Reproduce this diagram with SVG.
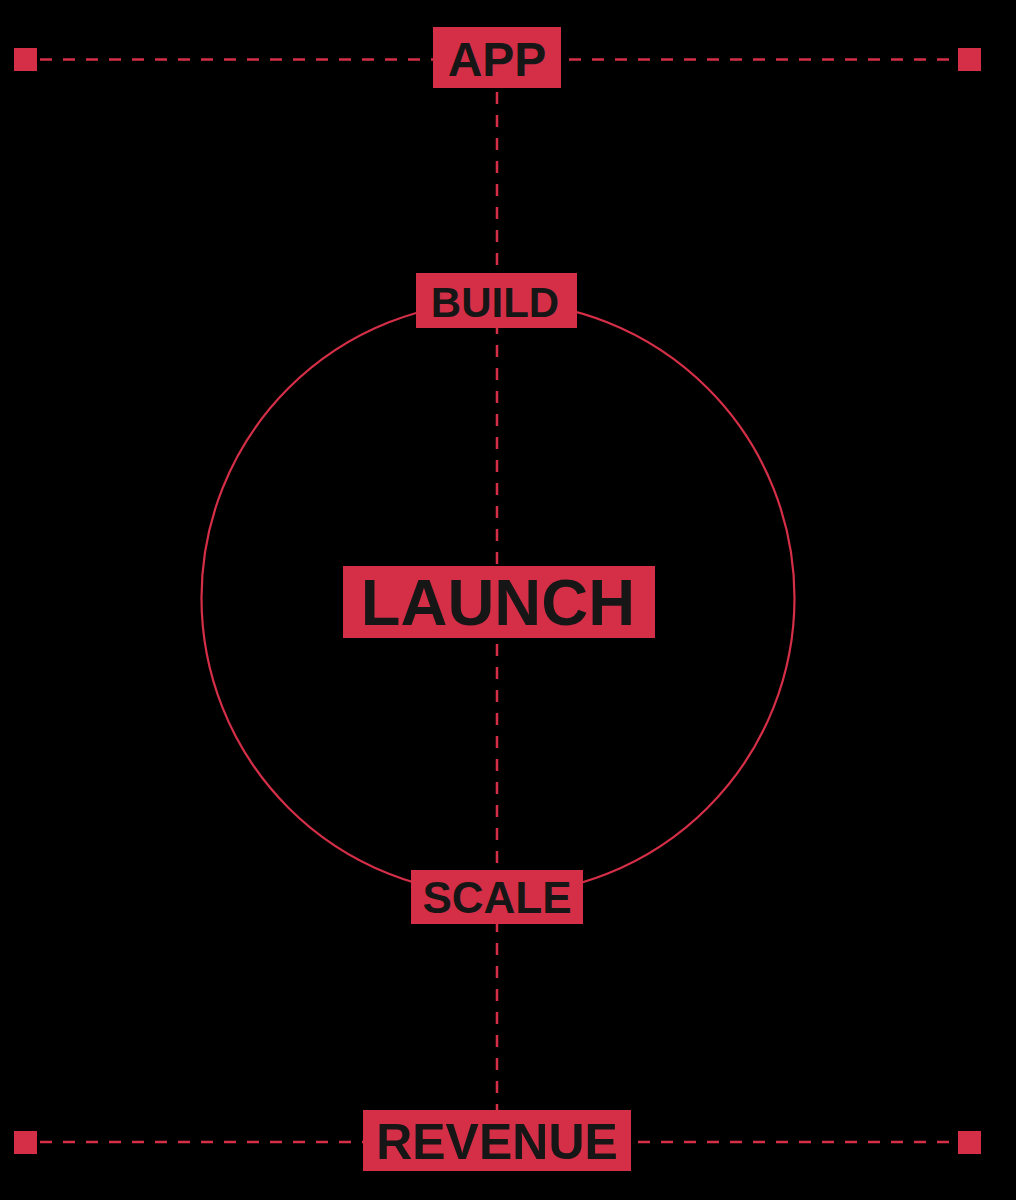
<svg xmlns="http://www.w3.org/2000/svg" width="1016" height="1200" viewBox="0 0 1016 1200">
  <style>
    .box { fill: #d52f48; }
    .lbl { font-family: "Liberation Sans", Arial, sans-serif; font-weight: bold; fill: #161616; text-anchor: middle; }
    .dash { stroke: #d52f48; stroke-width: 2.5; stroke-dasharray: 12 11; fill: none; }
    .end { fill: #d52f48; }
  </style>
  <rect x="0" y="0" width="1016" height="1200" fill="#000000"/>
  <g id="connectors">
    <line class="dash" x1="40" y1="59.5" x2="955" y2="59.5"/>
    <line class="dash" x1="40" y1="1142" x2="955" y2="1142"/>
    <line class="dash" x1="497" y1="92" x2="497" y2="1110"/>
    <circle cx="498" cy="598" r="296.5" fill="none" stroke="#d52f48" stroke-width="2.2"/>
    <rect class="end" x="14" y="48" width="23" height="23"/>
    <rect class="end" x="958" y="48" width="23" height="23"/>
    <rect class="end" x="14" y="1131" width="23" height="23"/>
    <rect class="end" x="958" y="1131" width="23" height="23"/>
  </g>
  <g id="app">
    <rect class="box" x="433" y="27" width="128" height="61"/>
    <text class="lbl" x="497" y="76" font-size="48">APP</text>
  </g>
  <g id="build">
    <rect class="box" x="416" y="273" width="161" height="55"/>
    <text class="lbl" x="495" y="317" font-size="42">BUILD</text>
  </g>
  <g id="launch">
    <rect class="box" x="343" y="566" width="312" height="72"/>
    <text class="lbl" x="498" y="625" font-size="65">LAUNCH</text>
  </g>
  <g id="scale">
    <rect class="box" x="411" y="870" width="172" height="54"/>
    <text class="lbl" x="497" y="913" font-size="44">SCALE</text>
  </g>
  <g id="revenue">
    <rect class="box" x="363" y="1110" width="268" height="61"/>
    <text class="lbl" x="497" y="1159" font-size="50">REVENUE</text>
  </g>
</svg>
